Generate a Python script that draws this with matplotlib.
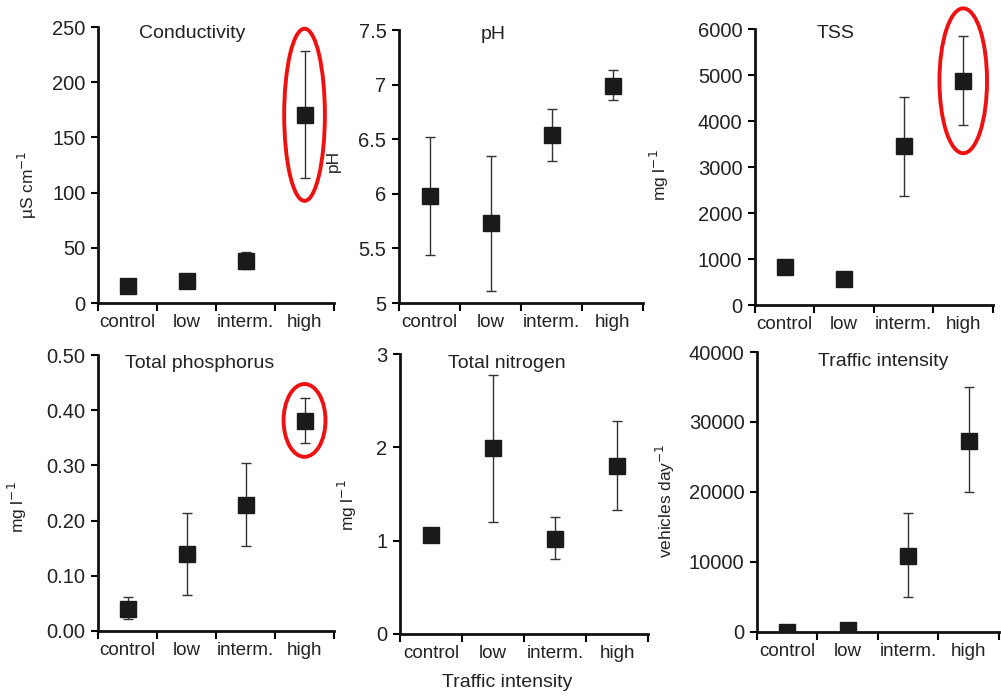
import matplotlib.pyplot as plt
from matplotlib.patches import Ellipse
from matplotlib.ticker import FixedLocator, NullFormatter

plt.rcParams['font.family'] = ['Liberation Sans', 'DejaVu Sans']

# ====== Datos ======
categorias = ["control", "low", "interm.", "high"]

cond_media = [15, 20, 38, 170]
cond_inf = [12, 16, 31, 113]
cond_sup = [18, 24, 46, 228]

ph_media = [5.98, 5.73, 6.54, 6.99]
ph_inf = [5.44, 5.11, 6.30, 6.86]
ph_sup = [6.52, 6.35, 6.78, 7.13]

tss_media = [835, 560, 3450, 4870]
tss_inf = [740, 500, 2370, 3910]
tss_sup = [930, 620, 4520, 5840]

tp_media = [0.040, 0.139, 0.229, 0.380]
tp_inf = [0.021, 0.065, 0.154, 0.340]
tp_sup = [0.061, 0.213, 0.305, 0.423]

tn_media = [1.06, 1.99, 1.02, 1.80]
tn_inf = [1.01, 1.20, 0.80, 1.33]
tn_sup = [1.11, 2.78, 1.25, 2.28]

trafico_media = [0, 300, 10900, 27300]
trafico_inf = [0, 100, 5000, 20000]
trafico_sup = [0, 500, 17000, 34950]

# (titulo, etiqueta y, media, inf, sup, ymax, paso, formato)
paneles = [
    ("Conductivity", "µS cm$^{-1}$", cond_media, cond_inf, cond_sup, 250, 50, "{:g}"),
    ("pH", "pH", ph_media, ph_inf, ph_sup, 7.5, 0.5, "{:g}"),
    ("TSS", "mg l$^{-1}$", tss_media, tss_inf, tss_sup, 6000, 1000, "{:g}"),
    ("Total phosphorus", "mg l$^{-1}$", tp_media, tp_inf, tp_sup, 0.5, 0.1, "{:.2f}"),
    ("Total nitrogen", "mg l$^{-1}$", tn_media, tn_inf, tn_sup, 3, 1, "{:g}"),
    ("Traffic intensity", "vehicles day$^{-1}$", trafico_media, trafico_inf, trafico_sup, 40000, 10000, "{:g}"),
]
ymin = [0, 5, 0, 0, 0, 0]

# posiciones de ejes en fraccion de figura
posiciones = [
    [0.0979, 0.5659, 0.2358, 0.3954],
    [0.3986, 0.5659, 0.2438, 0.3911],
    [0.7542, 0.5630, 0.2378, 0.3954],
    [0.0979, 0.0960, 0.2358, 0.3954],
    [0.3996, 0.0917, 0.2478, 0.4011],
    [0.7562, 0.0946, 0.2418, 0.4011],
]
titulo_pos = [(0.40, 0.975), (0.385, 0.985), (0.34, 0.985),
              (0.43, 0.97), (0.43, 0.965), (0.52, 0.965)]
ylabel_pos = [(-0.30, 0.43), (-0.27, 0.52), (-0.40, 0.47),
              (-0.34, 0.45), (-0.21, 0.46), (-0.38, 0.47)]

# elipses rojas: (indice panel, ancho en categorias, alto en unidades)
elipses = {0: (0.69, 156), 2: (0.80, 3150), 3: (0.71, 0.132)}

fig = plt.figure(figsize=(10.01, 6.98), dpi=100)
x = list(range(len(categorias)))
texto = "#222222"

for i, (tit, ylab, media, inf, sup, ymax, paso, fmt) in enumerate(paneles):
    ax = fig.add_axes(posiciones[i])
    err = [[m - a for m, a in zip(media, inf)], [b - m for m, b in zip(media, sup)]]
    ax.errorbar(x, media, yerr=err, fmt='s', color='#1a1a1a', markersize=11,
                ecolor='#333333', elinewidth=1, capsize=3.5, capthick=1, zorder=3)
    ax.set_xlim(-0.5, 3.5)
    ax.set_ylim(ymin[i], ymax)
    n = int(round((ymax - ymin[i]) / paso))
    yt = [ymin[i] + k * paso for k in range(n + 1)]
    ax.set_yticks(yt)
    ax.set_yticklabels([fmt.format(v) for v in yt], fontsize=14.5, color=texto)
    ax.xaxis.set_major_locator(FixedLocator([-0.5, 0.5, 1.5, 2.5, 3.5]))
    ax.xaxis.set_major_formatter(NullFormatter())
    ax.set_xticks(x, minor=True)
    ax.set_xticklabels(categorias, minor=True, fontsize=13.5, color=texto)
    ax.tick_params(axis='x', which='major', length=6, width=1.5, direction='out')
    ax.tick_params(axis='x', which='minor', length=0, pad=8)
    ax.tick_params(axis='y', length=5, width=1.5, direction='out', pad=4)
    for lado in ['top', 'right']:
        ax.spines[lado].set_visible(False)
    for lado in ['left', 'bottom']:
        ax.spines[lado].set_linewidth(2)
        ax.spines[lado].set_color('#111111')
    ax.text(titulo_pos[i][0], titulo_pos[i][1], tit, transform=ax.transAxes,
            ha='center', va='center', fontsize=14, color=texto)
    ax.text(ylabel_pos[i][0], ylabel_pos[i][1], ylab, transform=ax.transAxes,
            ha='center', va='center', rotation=90, fontsize=12.5, color=texto)
    if i in elipses:
        ancho, alto = elipses[i]
        cy = (inf[3] + sup[3]) / 2
        ax.add_patch(Ellipse((3, cy), ancho, alto, fill=False, edgecolor='#ee1111',
                             linewidth=2.8, clip_on=False, zorder=5))

fig.text(0.507, 0.0215, "Traffic intensity", ha='center', va='center',
         fontsize=14, color=texto)

fig.savefig("out.png", dpi=100)
